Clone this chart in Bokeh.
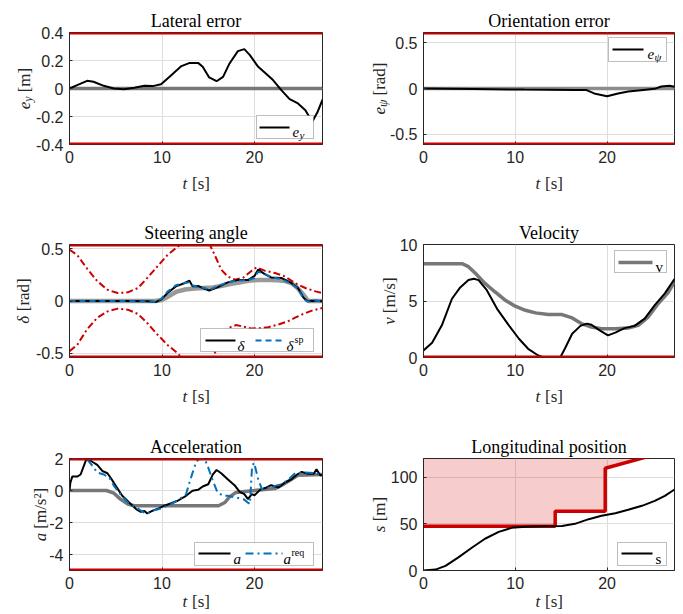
import math
from bokeh.plotting import figure
from bokeh.layouts import column, row
from bokeh.models import Range1d, Span, Label, BoxAnnotation, FixedTicker, CustomJSTickFormatter
from bokeh.embed import file_html
from bokeh.resources import INLINE

# ---------------- data ----------------
T_END = 27.35
x_ticks = [0, 10, 20]

# Lateral error
t_ey = [0, 0.83, 1.9, 2.6, 3.7, 4.8, 5.9, 7.0, 8.1, 9.0, 9.9, 11.0, 12.1, 13.0, 13.9, 14.4, 15.1, 15.9,
        16.6, 17.3, 18.2, 18.9, 19.5, 20.4, 21.1, 22.0, 22.9, 23.8, 24.7, 25.5, 25.9, 26.3, 26.8, 27.35]
ey = [0, 0.024, 0.055, 0.048, 0.019, 0.0, -0.005, 0.005, 0.019, 0.017, 0.03, 0.095, 0.16, 0.183, 0.183,
      0.155, 0.079, 0.052, 0.083, 0.179, 0.267, 0.281, 0.238, 0.155, 0.114, 0.06, -0.012, -0.076, -0.107,
      -0.155, -0.2, -0.23, -0.17, -0.08]
t_ref_flat = [0, 27.35]
ey_ref = [0, 0]
ey_lim = [-0.4, 0.4]
ey_ticks = [-0.4, -0.2, 0, 0.2, 0.4]

# Orientation error
t_epsi = [0, 5.5, 11, 16.4, 17.7, 18.6, 20.0, 21.2, 22.3, 23.7, 25.2, 25.9, 26.8, 27.35]
epsi = [0, -0.005, -0.012, -0.015, -0.015, -0.054, -0.085, -0.054, -0.033, -0.018, -0.004, 0.022, 0.029, 0.018]
epsi_ref = [0, 0]
epsi_lim = [-0.61, 0.61]
epsi_ticks = [-0.5, 0, 0.5]

# Steering angle
t_dup = [0, 0.83, 1.9, 3.0, 4.1, 5.2, 6.3, 7.4, 8.4, 9.5, 10.6, 11.7, 12.4, 13.2, 14.0, 14.7, 15.1, 15.7,
         16.4, 17.1, 17.9, 18.8, 19.7, 20.2, 21.1, 22.2, 23.3, 24.4, 25.5, 26.6, 27.35]
d_up = [0.49, 0.44, 0.31, 0.19, 0.108, 0.076, 0.083, 0.124, 0.22, 0.33, 0.44, 0.52, 0.56, 0.6, 0.61, 0.58,
        0.55, 0.44, 0.30, 0.235, 0.203, 0.225, 0.29, 0.32, 0.29, 0.267, 0.235, 0.17, 0.124, 0.092, 0.076]
t_dlo = [0, 0.83, 1.9, 3.0, 4.1, 5.2, 6.3, 7.4, 8.4, 9.5, 10.6, 11.7, 12.2, 13.0, 14.0, 15.0, 15.5, 16.1,
         16.8, 17.4, 18.0, 18.8, 19.6, 20.5, 21.5, 22.6, 23.7, 24.5, 25.1, 26.2, 27.35]
d_lo = [-0.48, -0.42, -0.27, -0.16, -0.10, -0.073, -0.083, -0.124, -0.21, -0.32, -0.42, -0.50, -0.55, -0.6,
        -0.62, -0.58, -0.54, -0.42, -0.31, -0.25, -0.23, -0.245, -0.262, -0.26, -0.25, -0.225, -0.19,
        -0.155, -0.13, -0.092, -0.067]
t_d = [0, 3, 6, 8.5, 9.3, 9.9, 10.6, 11.5, 12.4, 12.97, 13.3, 13.9, 14.6, 15.1, 16.0, 17.1, 18.2, 19.3,
       20.0, 20.4, 21.1, 21.8, 22.9, 24.0, 24.7, 25.3, 25.7, 26.6, 27.35]
delta = [0, 0, 0, -0.003, -0.01, 0.013, 0.076, 0.14, 0.17, 0.194, 0.14, 0.143, 0.117, 0.1, 0.13, 0.178,
         0.2, 0.2, 0.24, 0.3, 0.257, 0.225, 0.22, 0.17, 0.124, 0.03, 0.0, 0.003, -0.003]
delta_sp = [0, 0, 0, -0.003, -0.01, 0.02, 0.09, 0.15, 0.17, 0.18, 0.15, 0.135, 0.125, 0.105, 0.14, 0.18,
            0.195, 0.2, 0.22, 0.28, 0.26, 0.228, 0.21, 0.165, 0.115, 0.02, -0.005, 0.003, -0.003]
t_dref = [0, 9.3, 10.0, 10.8, 11.6, 12.5, 13.5, 14.5, 15.5, 16.5, 17.5, 18.5, 19.5, 20.5, 21.5, 22.5,
          23.3, 24.0, 24.6, 25.2, 25.8, 27.35]
delta_ref = [0, 0, 0.01, 0.05, 0.09, 0.11, 0.12, 0.125, 0.13, 0.145, 0.165, 0.18, 0.195, 0.2, 0.2, 0.198,
             0.19, 0.17, 0.13, 0.07, 0.0, 0.0]
delta_lim = [-0.54, 0.54]
delta_ticks = [-0.5, 0, 0.5]

# Velocity
t_vref = [0, 4.2, 4.9, 5.65, 6.7, 7.8, 8.9, 10.0, 11.1, 12.2, 13.6, 15.1, 16.2, 17.2, 18.3, 19.4, 20.9,
          22.3, 23.4, 24.5, 25.6, 26.7, 27.35]
v_ref = [8.3, 8.3, 8.04, 7.45, 6.56, 5.8, 5.07, 4.54, 4.18, 3.95, 3.8, 3.8, 3.5, 3.0, 2.7, 2.55, 2.55,
         2.6, 2.85, 3.6, 4.8, 5.8, 6.7]
t_v = [0, 0.94, 2.0, 3.1, 4.0, 4.9, 5.5, 6.0, 6.9, 8.0, 9.3, 10.4, 11.4, 12.5, 13.1, 14.9, 15.4, 16.2,
       17.1, 17.8, 18.3, 19.2, 20.1, 20.9, 21.9, 23.0, 24.1, 25.2, 26.3, 27.35]
v = [0.62, 1.3, 2.85, 5.2, 6.2, 6.85, 6.97, 6.85, 5.96, 4.33, 2.85, 1.66, 0.77, 0.18, 0, 0, 0.77, 2.1,
     2.8, 3.0, 2.9, 2.4, 1.96, 2.2, 2.6, 2.8, 3.44, 4.63, 5.67, 6.95]
v_min = 0
v_lim = [0, 10]
v_ticks = [0, 5, 10]

# Acceleration
t_aref = [0, 4.0, 4.8, 5.5, 6.3, 7.0, 16.1, 16.8, 17.3, 18.0, 18.9, 20.8, 22.2, 23.0, 23.7, 24.7, 27.35]
a_ref = [0, 0, -0.17, -0.54, -0.85, -0.95, -0.95, -0.75, -0.4, -0.12, -0.06, 0.04, 0.12, 0.35, 0.6, 0.95, 1.0]
t_a = [0, 0.1, 0.3, 0.83, 1.2, 1.74, 1.9, 2.5, 3.0, 3.55, 4.1, 4.5, 5.0, 5.7, 6.45, 7.2, 7.7, 8.1, 8.4,
       9.0, 9.5, 10.25, 11.0, 11.7, 12.6, 13.3, 13.9, 14.4, 15.0, 15.5, 15.9, 16.4, 17.1, 17.9, 18.4, 18.9,
       19.3, 19.7, 20.0, 20.6, 21.3, 21.8, 22.6, 23.3, 24.0, 24.6, 25.1, 25.8, 26.4, 26.7, 27.1, 27.35]
a = [0, 0.5, 0.87, 0.87, 1.0, 1.84, 2.0, 1.78, 1.6, 1.22, 1.08, 0.75, 0.29, -0.33, -0.75, -1.16, -1.33,
     -1.28, -1.43, -1.26, -1.16, -0.95, -0.8, -0.64, -0.33, -0.02, 0.04, 0.25, 0.39, 1.01, 1.28, 1.08, 0.7,
     0.29, -0.08, -0.23, -0.54, -0.23, -0.3, 0.04, 0.19, 0.33, 0.19, 0.5, 0.7, 1.0, 1.16, 1.05, 1.05, 1.32,
     0.95, 0.95]
t_areq = [0, 1.2, 1.9, 2.5, 3.0, 3.7, 4.3, 4.8, 5.5, 6.3, 7.35, 8.3, 9.0, 9.9, 11.0, 11.9, 12.6, 12.97,
          13.3, 13.7, 14.06, 14.6, 15.0, 15.5, 16.0, 16.6, 17.1, 17.9, 18.8, 19.5, 19.74, 19.96, 20.4, 20.8,
          21.5, 22.2, 22.9, 23.7, 24.4, 25.5, 26.6, 27.35]
a_req = [2.0, 2.0, 1.95, 1.53, 1.12, 1.0, 0.8, 0.29, -0.23, -0.75, -1.12, -1.47, -1.26, -1.12, -0.85,
         -0.54, -0.23, 0.5, 1.1, 1.8, 2.0, 2.0, 1.43, 0.6, -0.12, -0.33, -0.33, -0.43, -0.54, -0.85, 1.53,
         1.74, 0.7, 0.08, 0.19, 0.29, 0.39, 0.7, 1.08, 1.12, 1.08, 0.87]
a_lim = [-5, 2]
a_ticks = [-4, -2, 0, 2]

# Longitudinal position
t_s = [0, 1.3, 2.4, 3.8, 5.3, 6.7, 8.2, 9.6, 11.1, 12.9, 15.1, 16.5, 18.0, 19.4, 20.9, 22.3, 23.8, 25.2,
       26.3, 27.35]
s = [0, 1, 5, 14, 24.6, 34, 41.4, 45.7, 47.0, 47.3, 47.6, 50, 55, 58.6, 61.4, 65, 69.3, 74.6, 80, 86.8]
t_sb = [0, 14.35, 14.35, 19.8, 19.8, 24.06, 27.35]
s_bound = [47.5, 47.5, 63.6, 63.6, 109.6, 121, 129]
s_top = [120, 120, 120, 120, 120, 120, 120]
s_lim = [0, 120]
s_ticks = [0, 50, 100]

# ---------------- styling ----------------
RED = "#cc0000"
BLUE = "#0072bd"
GRAY = "#777777"
AX = "#262626"
SERIF = "Liberation Serif"
SANS = "Liberation Sans"


def X(info, px):
    return info["x0"] + px * (info["x1"] - info["x0"]) / info["fw"]


def Y(info, py):
    return info["y1"] - py * (info["y1"] - info["y0"]) / info["fh"]


def make(title, ylim, yticks, fw, fh, bl, br, bt, bb):
    p = figure(frame_width=fw, frame_height=fh, x_range=Range1d(0, T_END), y_range=Range1d(*ylim),
               output_backend="svg", toolbar_location=None, title=title,
               min_border_left=bl, min_border_right=br, min_border_top=bt, min_border_bottom=bb)
    p.background_fill_color = "white"
    p.border_fill_color = "white"
    p.outline_line_color = AX
    p.outline_line_width = 1
    p.title.text_font = SERIF
    p.title.text_font_size = "18px"
    p.title.text_font_style = "normal"
    p.title.text_color = "black"
    p.title.align = "center"
    p.title.standoff = 3
    p.xaxis.ticker = FixedTicker(ticks=x_ticks)
    p.yaxis.ticker = FixedTicker(ticks=yticks)
    fmt = "return String(tick)"
    p.xaxis.formatter = CustomJSTickFormatter(code=fmt)
    p.yaxis.formatter = CustomJSTickFormatter(code=fmt)
    for ax in (p.xaxis[0], p.yaxis[0]):
        ax.axis_line_color = AX
        ax.major_tick_line_color = AX
        ax.major_tick_in = 3
        ax.major_tick_out = 0
        ax.minor_tick_in = 0
        ax.minor_tick_out = 0
        ax.major_label_text_font = SANS
        ax.major_label_text_font_size = "16px"
        ax.major_label_text_color = AX
        ax.major_label_standoff = 6
    p.grid.grid_line_color = "#dedede"
    p.grid.grid_line_width = 1
    info = dict(x0=0, x1=T_END, y0=ylim[0], y1=ylim[1], fw=fw, fh=fh)
    return p, info


def lab(p, info, px, py, text, size, style, angle=0, color="black", place="center"):
    lbl = Label(x=X(info, px), y=Y(info, py), text=text, text_font=SERIF,
                text_font_size=f"{size}px", text_font_style=style, text_color=color,
                text_align="left", text_baseline="alphabetic", angle=angle, level="overlay")
    p.add_layout(lbl, place)


def hlabel(p, info, parts, px_start, py_base, color="black"):
    # parts: (text, size, style, advance, dy, place)
    cx = px_start
    for txt, size, style, adv, dy, place in parts:
        lab(p, info, cx, py_base + dy, txt, size, style, color=color, place=place)
        cx += adv


def vlabel(p, info, parts, bx, color=AX):
    total = sum(pp[3] for pp in parts)
    c = 0
    for txt, size, style, adv, dy, place in parts:
        lab(p, info, bx + dy, info["fh"] / 2 + total / 2 - c, txt, size, style, angle=math.pi / 2,
            color=color, place=place)
        c += adv


def tlabel(p, info, below, place_s):
    parts = [("t", 17, "italic", 9.5, 0, "left"), ("[s]", 17, "normal", 18, 0, place_s)]
    hlabel(p, info, parts, info["fw"] / 2 - 13.5, info["fh"] + below, color=AX)


def legend_box(p, info, l, t, r, b):
    p.add_layout(BoxAnnotation(left=X(info, l), right=X(info, r), top=Y(info, t), bottom=Y(info, b),
                               fill_color="white", fill_alpha=1, line_color=AX, line_width=1,
                               level="annotation"))


def legend_line(p, info, l, r, y, **kw):
    p.line([X(info, l), X(info, r)], [Y(info, y), Y(info, y)], level="overlay", **kw)


def limits(p, vals, width=4):
    for val in vals:
        p.add_layout(Span(location=val, dimension="width", line_color=RED, line_width=width,
                          level="overlay"))


LB, RB_L, LB_R, RB_R = 69, 10, 91, 8

# ---------------- Lateral error ----------------
p1, i1 = make("Lateral error", ey_lim, ey_ticks, 253, 112, LB, RB_L, 32, 64)
p1.line(t_ref_flat, ey_ref, line_color=GRAY, line_width=3.5)
p1.line(t_ey, ey, line_color="black", line_width=2)
limits(p1, ey_lim)
legend_box(p1, i1, 187, 83, 244, 106)
legend_line(p1, i1, 190, 220, 95, line_color="black", line_width=2)
hlabel(p1, i1, [("e", 15, "italic", 7, 0, "center"), ("y", 11, "italic", 6, 3, "center")], 223, 99)
vlabel(p1, i1, [("e", 17, "italic", 7.5, 0, "below"), ("y", 12, "italic", 9.5, 3, "below"),
                ("[m]", 17, "normal", 24.6, 0, "left")], -45)
tlabel(p1, i1, 39, "below")

# ---------------- Orientation error ----------------
p2, i2 = make("Orientation error", epsi_lim, epsi_ticks, 251, 112, LB_R, RB_R, 32, 64)
p2.line(t_ref_flat, epsi_ref, line_color="#8c8c8c", line_width=3.5)
p2.line(t_epsi, epsi, line_color="black", line_width=2)
limits(p2, epsi_lim)
legend_box(p2, i2, 185, 5, 243, 29)
legend_line(p2, i2, 189, 220, 17, line_color="black", line_width=2)
hlabel(p2, i2, [("e", 15, "italic", 7, 0, "center"), ("ψ", 11, "italic", 8, 3, "center")], 224, 21)
vlabel(p2, i2, [("e", 17, "italic", 7.5, 0, "below"), ("ψ", 12, "italic", 11.5, 3, "below"),
                ("[rad]", 17, "normal", 33, 0, "left")], -44)
tlabel(p2, i2, 39, "below")

# ---------------- Steering angle ----------------
p3, i3 = make("Steering angle", delta_lim, delta_ticks, 253, 113, LB, RB_L, 36, 64)
p3.line(t_dref, delta_ref, line_color="#999999", line_width=4.5)
p3.line(t_dup, d_up, line_color=RED, line_width=2, line_dash="7 3 2 3")
p3.line(t_dlo, d_lo, line_color=RED, line_width=2, line_dash="7 3 2 3")
p3.line(t_d, delta, line_color="black", line_width=2)
p3.line(t_d, delta_sp, line_color=BLUE, line_width=2, line_dash="6 4")
limits(p3, delta_lim)
legend_box(p3, i3, 131, 84, 244, 107)
legend_line(p3, i3, 136, 166, 96, line_color="black", line_width=2)
hlabel(p3, i3, [("δ", 15, "italic", 8, 0, "center")], 168, 101)
legend_line(p3, i3, 186, 216, 96, line_color=BLUE, line_width=2, line_dash="6 4")
hlabel(p3, i3, [("δ", 15, "italic", 8, 0, "center"), ("sp", 10, "normal", 10, -6, "center")], 217, 101)
vlabel(p3, i3, [("δ", 17, "italic", 12.5, 0, "below"), ("[rad]", 17, "normal", 33, 0, "left")], -46)
tlabel(p3, i3, 39, "below")

# ---------------- Velocity ----------------
p4, i4 = make("Velocity", v_lim, v_ticks, 251, 113, LB_R, RB_R, 36, 64)
p4.line(t_vref, v_ref, line_color=GRAY, line_width=3.5)
p4.line(t_v, v, line_color="black", line_width=2)
limits(p4, [v_min])
legend_box(p4, i4, 191, 6, 243, 28)
legend_line(p4, i4, 195, 229, 18, line_color=GRAY, line_width=3.5)
hlabel(p4, i4, [("v", 15, "normal", 8, 0, "center")], 232, 22)
vlabel(p4, i4, [("v", 17, "italic", 11.5, 0, "below"), ("[m/s]", 17, "normal", 36, 0, "left")], -34)
tlabel(p4, i4, 39, "left")

# ---------------- Acceleration ----------------
p5, i5 = make("Acceleration", a_lim, a_ticks, 253, 112, LB, RB_L, 37, 43)
p5.line(t_aref, a_ref, line_color=GRAY, line_width=3.5)
p5.line(t_a, a, line_color="black", line_width=2)
p5.line(t_areq, a_req, line_color=BLUE, line_width=2, line_dash="8 4 2 4")
limits(p5, a_lim)
legend_box(p5, i5, 125, 84, 244, 107)
legend_line(p5, i5, 129, 161, 95, line_color="black", line_width=2)
hlabel(p5, i5, [("a", 15, "italic", 8, 0, "center")], 164, 100)
legend_line(p5, i5, 176, 213, 95, line_color=BLUE, line_width=2, line_dash="8 4 2 4")
hlabel(p5, i5, [("a", 15, "italic", 8, 0, "center"), ("req", 10, "normal", 14, -6, "center")], 214, 100)
vlabel(p5, i5, [("a", 17, "italic", 12.5, 0, "below"), ("[m/s²]", 17, "normal", 41, 0, "left")], -29)
tlabel(p5, i5, 31, "left")

# ---------------- Longitudinal position ----------------
p6, i6 = make("Longitudinal position", s_lim, s_ticks, 251, 112, LB_R, RB_R, 37, 43)
p6.varea(x=t_sb, y1=s_bound, y2=s_top, fill_color="#d40000", fill_alpha=0.2)
p6.line(t_sb, s_bound, line_color=RED, line_width=3.5)
p6.line(t_s, s, line_color="black", line_width=2)
legend_box(p6, i6, 194, 84, 243, 107)
legend_line(p6, i6, 198, 229, 95, line_color="black", line_width=2)
hlabel(p6, i6, [("s", 15, "normal", 8, 0, "center")], 232, 100)
vlabel(p6, i6, [("s", 17, "italic", 11, 0, "below"), ("[m]", 17, "normal", 24.6, 0, "left")], -44)
tlabel(p6, i6, 31, "left")

layout = column(row(p1, p2), row(p3, p4), row(p5, p6))
open("out.html", "w").write(file_html(layout, INLINE))
